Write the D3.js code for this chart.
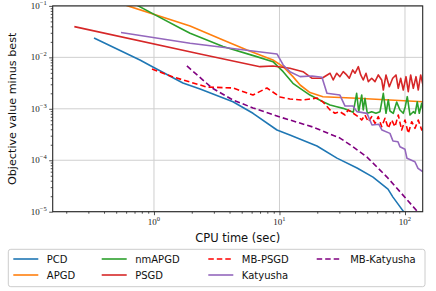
<!DOCTYPE html>
<html>
<head>
<meta charset="utf-8">
<script src="https://cdn.jsdelivr.net/npm/d3@7.9.0/dist/d3.min.js"></script>
<style>
  body { margin: 0; background: #fff; }
  svg { display: block; font-family: "DejaVu Sans", sans-serif; }
</style>
</head>
<body>
<svg id="chart" width="436" height="291"></svg>
<script>
// CPU time (sec) and objective gap
const pcdT = [0.333, 0.773, 0.98, 1.70, 2.33, 4.26, 6.15, 9.55, 12.1, 19.9, 28.7, 41.5, 55.6, 73.2, 80.2, 98.2];
const pcdV = [0.0238, 0.00889, 0.0065, 0.00318, 0.00243, 0.00137, 0.000817, 0.000387, 0.000309, 0.000189, 0.00011, 7.05e-5, 4.71e-5, 2.75e-5, 1.92e-5, 9.8e-6];

const apgdT = [0.446, 0.621, 1.94, 3.55, 5.51, 8.87, 10.7, 12.8, 14.6, 17.5, 22.2, 41.5, 75.9, 139];
const apgdV = [0.131, 0.1, 0.0408, 0.0218, 0.0139, 0.00889, 0.00659, 0.00422, 0.0029, 0.00207, 0.00172, 0.0016, 0.00148, 0.00137];

const nmapgdT = [0.61, 1.02, 1.61, 1.94, 3.55, 6.58, 8.87, 10.7, 12.8, 14.6, 17.5, 22.2, 25.3, 28.6, 32.2, 36.5, 38.7, 41.2, 42.8, 45.2, 46.5, 48.0, 50.1, 54.3, 58.7, 63.2, 67.2, 70.6, 73.6, 75.9, 80.7, 85.9, 91.2, 96.9, 100.5, 104.3, 109.6, 116.5, 120.5, 125.3, 130.0, 135.9, 141.7];
const nmapgdV = [0.131, 0.0669, 0.0373, 0.0294, 0.0162, 0.01033, 0.00824, 0.00527, 0.00313, 0.0025, 0.00185, 0.00137, 0.00119, 0.0011, 0.00102, 0.000906, 0.000855, 0.002, 0.00088, 0.00186, 0.000948, 0.0016, 0.000818, 0.000878, 0.000818, 0.000878, 0.002, 0.000818, 0.0015, 0.000906, 0.000818, 0.00135, 0.000948, 0.000818, 0.0011, 0.00172, 0.000757, 0.000878, 0.000818, 0.00137, 0.000818, 0.00128, 0.000757];

const psgdT = [0.232, 2.33, 7.0, 8.87, 12.1, 15.4, 18.2, 21.8, 25.3, 26.8, 28.6, 30.3, 32.2, 34.3, 36.0, 38.3, 40.0, 42.5, 44.4, 46.5, 48.9, 51.0, 54.3, 57.7, 61.3, 65.2, 67.2, 70.6, 75.0, 79.8, 84.8, 88.4, 92.4, 96.9, 101.9, 106.2, 111.0, 116.5, 122.4, 127.6, 133.4, 139.9];
const psgdV = [0.0395, 0.01164, 0.00659, 0.0068, 0.00614, 0.00527, 0.00392, 0.00392, 0.00491, 0.00363, 0.00491, 0.00421, 0.00527, 0.00455, 0.00392, 0.00569, 0.00491, 0.00659, 0.00455, 0.00363, 0.00491, 0.00337, 0.00392, 0.00337, 0.00455, 0.00363, 0.00232, 0.00455, 0.00269, 0.00392, 0.00455, 0.0025, 0.00392, 0.00232, 0.00421, 0.00215, 0.00455, 0.0025, 0.00421, 0.00232, 0.00455, 0.00269];

const mbpsgdT = [0.964, 1.42, 2.64, 4.26, 6.15, 7.95, 10.1, 12.1, 15.4, 19.9, 22.2, 25.3, 27.7, 30.3, 33.3, 35.3, 38.7, 42.5, 45.2, 48.0, 51.0, 54.3, 57.7, 61.3, 65.2, 69.3, 73.6, 78.3, 83.2, 88.4, 94.1, 100, 106.2, 113.1, 120.2, 127.6, 135.9, 140];
const mbpsgdV = [0.00594, 0.00416, 0.00265, 0.00254, 0.00185, 0.00254, 0.0017, 0.00155, 0.00148, 0.00162, 0.00136, 0.000948, 0.000818, 0.000878, 0.000757, 0.000948, 0.000818, 0.000702, 0.000605, 0.000757, 0.000561, 0.000702, 0.000522, 0.000702, 0.000449, 0.000653, 0.000418, 0.000605, 0.000449, 0.000757, 0.000387, 0.000605, 0.000334, 0.000561, 0.000418, 0.000605, 0.000387, 0.00045];

const katT = [0.546, 1.94, 9.55, 10.7, 12.1, 14.6, 18.2, 21.8, 23.9, 30.3, 33.3, 38.5, 41.4, 49.8, 54.6, 62, 65.6, 75.9, 80.2, 87.9, 91.2, 100, 103.7, 120, 127, 139];
const katV = [0.0303, 0.0188, 0.01164, 0.00711, 0.00527, 0.00422, 0.00435, 0.0041, 0.002, 0.00185, 0.00113, 0.00113, 0.00088, 0.000816, 0.000484, 0.0005, 0.000387, 0.000333, 0.000237, 0.000229, 0.000183, 0.000163, 0.000109, 9.35e-5, 6.96e-5, 5.97e-5];

const mbkatT = [1.83, 2.90, 4.26, 6.15, 10.1, 18.5, 30.3, 37.8, 49.8, 71.9, 96.4, 124.6, 135];
const mbkatV = [0.00681, 0.00254, 0.00148, 0.00104, 0.000692, 0.000442, 0.00027, 0.000189, 0.000115, 4.71e-5, 2.1e-5, 1.03e-5, 7e-6];

const names = ["PCD", "APGD", "nmAPGD", "PSGD", "MB-PSGD", "Katyusha", "MB-Katyusha"];
const yTicks = [1e-5, 1e-4, 1e-3, 1e-2, 1e-1];
const yTickExp = ["\u22125", "\u22124", "\u22123", "\u22122", "\u22121"];
const xTicks = [1, 10, 100];
const xTickExp = ["0", "1", "2"];

const series = [
  { name: names[0], t: pcdT, v: pcdV, color: "#1f77b4", dash: null },
  { name: names[1], t: apgdT, v: apgdV, color: "#ff7f0e", dash: null },
  { name: names[2], t: nmapgdT, v: nmapgdV, color: "#2ca02c", dash: null },
  { name: names[3], t: psgdT, v: psgdV, color: "#d62728", dash: null },
  { name: names[4], t: mbpsgdT, v: mbpsgdV, color: "#ff0000", dash: "5.5,3" },
  { name: names[5], t: katT, v: katV, color: "#9467bd", dash: null },
  { name: names[6], t: mbkatT, v: mbkatV, color: "#800080", dash: "5.5,3" }
];

const svg = d3.select("#chart");
const pLeft = 52.7, pRight = 422.7, pTop = 5.9, pBottom = 211.7;

const x = d3.scaleLog().domain([0.156, 138.4]).range([pLeft, pRight]);
const y = d3.scaleLog().domain([1e-5, 1e-1]).range([pBottom, pTop]);

svg.append("defs").append("clipPath").attr("id", "plot-clip")
  .append("rect")
  .attr("x", pLeft).attr("y", pTop)
  .attr("width", pRight - pLeft).attr("height", pBottom - pTop);

// grid
const grid = svg.append("g").attr("stroke", "#cfcfcf").attr("stroke-width", 1);
grid.selectAll("line.gx").data(xTicks).join("line")
  .attr("x1", d => x(d)).attr("x2", d => x(d))
  .attr("y1", pTop).attr("y2", pBottom);
grid.selectAll("line.gy").data(yTicks).join("line")
  .attr("x1", pLeft).attr("x2", pRight)
  .attr("y1", d => y(d)).attr("y2", d => y(d));

// minor tick positions
const xMinor = [];
[0.1, 1, 10].forEach(b => { for (let k = 2; k <= 9; k++) { const t = b * k; if (t >= 0.156 && t <= 138.4) xMinor.push(t); } });
const yMinor = [];
[1e-5, 1e-4, 1e-3, 1e-2].forEach(b => { for (let k = 2; k <= 9; k++) yMinor.push(b * k); });

const axX = svg.append("g").attr("transform", `translate(0,${pBottom})`)
  .call(d3.axisBottom(x).tickValues(xTicks).tickSize(3.5).tickFormat(""));
const axXm = svg.append("g").attr("transform", `translate(0,${pBottom})`)
  .call(d3.axisBottom(x).tickValues(xMinor).tickSize(2).tickFormat(""));
const axY = svg.append("g").attr("transform", `translate(${pLeft},0)`)
  .call(d3.axisLeft(y).tickValues(yTicks).tickSize(3.5).tickFormat(""));
const axYm = svg.append("g").attr("transform", `translate(${pLeft},0)`)
  .call(d3.axisLeft(y).tickValues(yMinor).tickSize(2).tickFormat(""));
[axX, axXm, axY, axYm].forEach(g => {
  g.select(".domain").remove();
  g.selectAll(".tick line").attr("stroke", "#222").attr("stroke-width", 0.8);
});

// tick labels
const yl = svg.append("g").attr("font-family", "'Liberation Serif', serif").attr("fill", "#222");
yTicks.forEach((d, i) => {
  const t = yl.append("text").attr("x", pLeft - 6).attr("y", y(d) + 3).attr("text-anchor", "end");
  t.append("tspan").attr("font-size", 9).text("10");
  t.append("tspan").attr("font-size", 6.5).attr("dy", -4).text(yTickExp[i]);
});
const xl = svg.append("g").attr("font-family", "'Liberation Serif', serif").attr("fill", "#222");
xTicks.forEach((d, i) => {
  const t = xl.append("text").attr("x", x(d)).attr("y", 225).attr("text-anchor", "middle");
  t.append("tspan").attr("font-size", 9).text("10");
  t.append("tspan").attr("font-size", 6.5).attr("dy", -4).text(xTickExp[i]);
});

// lines
const line = d3.line().x(d => x(d[0])).y(d => y(d[1]));
const plot = svg.append("g").attr("clip-path", "url(#plot-clip)");
series.forEach(s => {
  plot.append("path")
    .datum(d3.zip(s.t, s.v))
    .attr("d", line)
    .attr("fill", "none")
    .attr("stroke", s.color)
    .attr("stroke-width", 1.6)
    .attr("stroke-linejoin", "round")
    .attr("stroke-dasharray", s.dash);
});

// frame
svg.append("rect")
  .attr("x", pLeft).attr("y", pTop)
  .attr("width", pRight - pLeft).attr("height", pBottom - pTop)
  .attr("fill", "none").attr("stroke", "#262626").attr("stroke-width", 1.1);

// axis titles
svg.append("text")
  .attr("x", (pLeft + pRight) / 2).attr("y", 241.5)
  .attr("text-anchor", "middle").attr("font-size", 11.5).attr("fill", "#111")
  .text("CPU time (sec)");
svg.append("text")
  .attr("transform", `translate(16,${(pTop + pBottom) / 2}) rotate(-90)`)
  .attr("text-anchor", "middle").attr("font-size", 11.2).attr("fill", "#111")
  .text("Objective value minus best");

// legend
const legend = svg.append("g");
legend.append("rect")
  .attr("x", 8.3).attr("y", 249.3).attr("width", 416.7).attr("height", 37.4)
  .attr("rx", 2.5).attr("fill", "#fff").attr("stroke", "#cccccc").attr("stroke-width", 1);
const colX = [13.3, 101.7, 208.3, 316.7];
const rowY = [259, 275];
series.forEach((s, i) => {
  const cx = colX[Math.floor(i / 2)], cy = rowY[i % 2];
  legend.append("line")
    .attr("x1", cx).attr("x2", cx + 25).attr("y1", cy).attr("y2", cy)
    .attr("stroke", s.color).attr("stroke-width", 1.6)
    .attr("stroke-dasharray", s.dash);
  legend.append("text")
    .attr("x", cx + 33.5).attr("y", cy + 3.6)
    .attr("font-size", 10).attr("fill", "#111")
    .text(s.name);
});
</script>
</body>
</html>
